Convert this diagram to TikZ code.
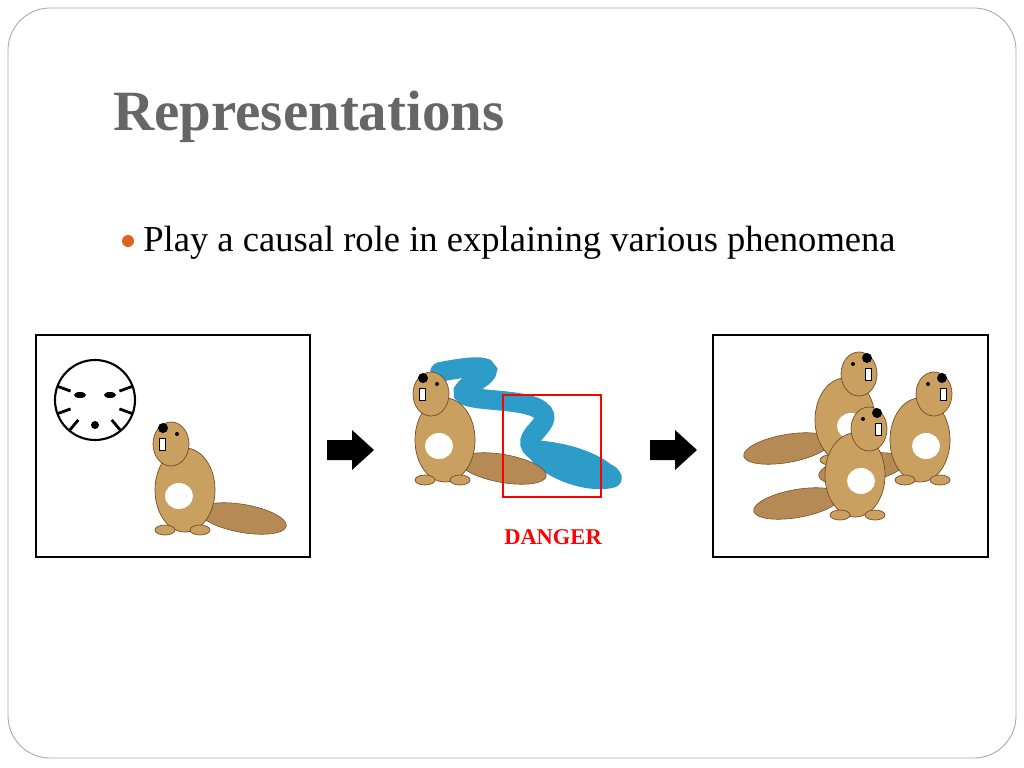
\documentclass[tikz,border=0pt]{standalone}
\usepackage{fontspec}
\setmainfont{Liberation Serif}
\definecolor{titlegray}{HTML}{666666}
\definecolor{bulletorange}{HTML}{E0601E}
\definecolor{fur}{HTML}{C9A060}
\definecolor{tailfur}{HTML}{B58A55}
\definecolor{river}{HTML}{2E9CC8}
\tikzset{
  panel/.style={draw=black, line width=0.8pt, fill=white},
  blockarrow/.style={fill=black},
  furry/.style={fill=fur, draw=brown!60!black, line width=0.5pt},
  pics/beaver/.style={code={
    \draw[fill=tailfur, draw=brown!60!black, rotate=-10] (62,18) ellipse (44 and 14);
    \draw[furry] (0,0) ellipse (30 and 42);
    \draw[furry] (-14,-46) ellipse (18 and 22);
    \fill[white] (-6,6) ellipse (14 and 13);
    \draw[fill=white] (-26,-52) rectangle (-20,-40);
    \fill[black] (-22,-62) circle (5);
    \fill[black] (-8,-56) circle (2);
    \draw[furry] (-20,40) ellipse (10 and 5);
    \draw[furry] (15,40) ellipse (10 and 5);
  }}
}
\begin{document}
\begin{tikzpicture}[x=0.025cm,y=-0.025cm]
\useasboundingbox (0,0) rectangle (1024,768);
\draw[gray!70, line width=0.6pt, rounded corners=30] (8,8) rectangle (1016,758);
\node[anchor=base west, inner sep=0pt, text=titlegray, font=\fontsize{40.5}{44}\selectfont\bfseries] (title) at (113,131) {Representations};
\fill[bulletorange] (128,241) circle (6);
\node[anchor=base west, inner sep=0pt, font=\fontsize{26}{30}\selectfont] (bullet) at (143,251) {Play a causal role in explaining various phenomena};
% left panel: tiger and beaver
\draw[panel] (36,335) rectangle (310,557);
\draw[fill=white, line width=1.5pt] (95,400) circle (40);
\foreach \a in {20,50,130,160,200,340} \draw[line width=2pt] (95,400) ++(\a:26) -- ++(\a:14);
\fill[black] (80,395) ellipse (6 and 3) (110,395) ellipse (6 and 3);
\fill[black] (95,425) circle (4);
\pic at (185,490) {beaver};
% arrows
\fill[blockarrow] (327,440) -- (352,440) -- (352,430) -- (374,450) -- (352,470) -- (352,460) -- (327,460) -- cycle;
\fill[blockarrow] (650,440) -- (675,440) -- (675,430) -- (697,450) -- (675,470) -- (675,460) -- (650,460) -- cycle;
% middle: river, beaver, danger
\draw[river, line width=14pt, line cap=round] (440,372) .. controls (490,362) and (500,368) .. (470,385)
  .. controls (440,405) and (520,395) .. (540,410) .. controls (560,425) and (505,440) .. (545,455)
  .. controls (580,468) and (610,470) .. (612,478);
\fill[river] (525,440) .. controls (590,440) and (640,475) .. (612,488) .. controls (580,495) and (520,470) .. cycle;
\pic at (445,440) {beaver};
\draw[red, line width=1.5pt] (503,395) rectangle (601,497);
\node[text=red, font=\fontsize{16}{18}\selectfont\bfseries] (danger) at (553,537) {DANGER};
% right panel: beavers
\draw[panel] (713,335) rectangle (988,557);
\pic[xscale=-1] at (920,440) {beaver};
\pic[xscale=-1] at (845,420) {beaver};
\pic[xscale=-1] at (855,475) {beaver};
\end{tikzpicture}
\end{document}
